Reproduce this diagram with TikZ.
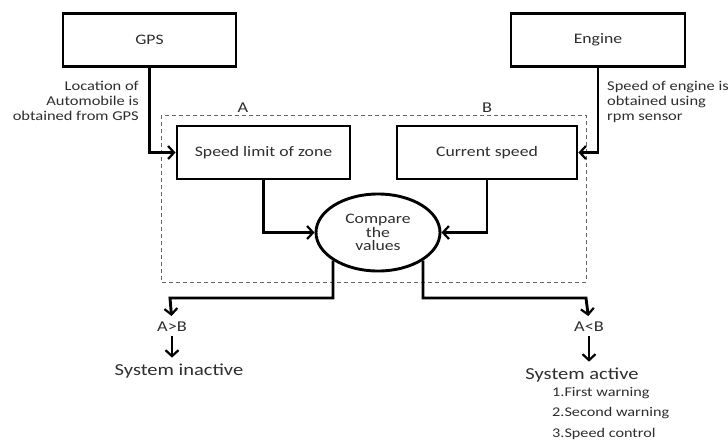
\documentclass[tikz,border=0pt]{standalone}
\usepackage{fontspec}
\setmainfont{Carlito}[FakeStretch=1.22]
\usetikzlibrary{arrows.meta,shapes.geometric}
\definecolor{txt}{HTML}{2E2E2E}
\tikzset{
  box/.style={draw=black, line width=2.9pt, rectangle, minimum height=53pt, text=txt, font=\fontsize{14.5}{16}\selectfont},
  conn/.style={line width=2.9pt, -{Straight Barb[length=6pt,width=13pt,line width=2.2pt]}},
  lbl/.style={text=txt, font=\fontsize{13.5}{15}\selectfont, inner sep=0pt, align=left},
  big/.style={text=txt, font=\fontsize{16.8}{18}\selectfont, inner sep=0pt},
  mid/.style={text=txt, font=\fontsize{15}{16}\selectfont, inner sep=0pt},
  item/.style={text=txt, font=\fontsize{13.3}{15}\selectfont, inner sep=0pt, anchor=west},
}
\begin{document}
\begin{tikzpicture}[x=1pt,y=-1pt]
\useasboundingbox[fill=white] (0,0) rectangle (728,440);
% dashed frame
\draw[gray!80!black, line width=0.9pt, dash pattern=on 4pt off 3pt] (161,115) rectangle (586,282);
% boxes
\node[box, minimum width=173pt] (gps) at (149.5,40) {GPS};
\node[box, minimum width=174pt] (engine) at (598,40) {Engine};
\node[box, minimum width=173pt] (slz) at (263.5,152.5) {Speed limit of zone};
\node[box, minimum width=180pt] (cs) at (487,152.5) {Current speed};
\node[ellipse, draw=black, line width=2.9pt, minimum width=124pt, minimum height=77pt, inner sep=0pt, text=txt, align=center, font=\fontsize{14.5}{13.5}\selectfont] (cmp) at (378,232.5) {Compare\\the\\values};
% labels
\node[mid] (la) at (243,108) {A};
\node[mid] (lb) at (487,108) {B};
\node[lbl, anchor=east, align=right] (loc) at (139,101) {Location of\\Automobile is\\obtained from GPS};
\node[lbl, anchor=west] (spd) at (607,102) {Speed of engine is\\obtained using\\rpm sensor};
% outcomes
\node[mid] (gt) at (172,327) {A>B};
\node[mid] (lt) at (589,327) {A<B};
\node[big] (inact) at (179,371) {System inactive};
\node[big] (act) at (582,375) {System active};
\node[item] (i1) at (552,393) {1.First warning};
\node[item] (i2) at (552,413) {2.Second warning};
\node[item] (i3) at (552,434) {3.Speed control};
% connectors
\draw[conn] (gps.south) |- (slz.west);
\draw[conn] (engine.south) |- (cs.east);
\draw[conn] (slz.south) |- (cmp.west);
\draw[conn] (cs.south) |- (cmp.east);
\coordinate (jl) at (170,298);
\coordinate (jr) at (586,298);
\draw[conn, shorten >=6pt] (cmp.212) |- (jl) -- (gt.north);
\draw[conn, shorten >=6pt] (cmp.328) |- (jr) -- (lt.north);
\draw[conn, shorten <=4pt, shorten >=6pt] (gt.south) -- (inact.north -| gt.south);
\draw[conn, shorten <=4pt, shorten >=6pt] (lt.south) -- (act.north -| lt.south);
\end{tikzpicture}
\end{document}
